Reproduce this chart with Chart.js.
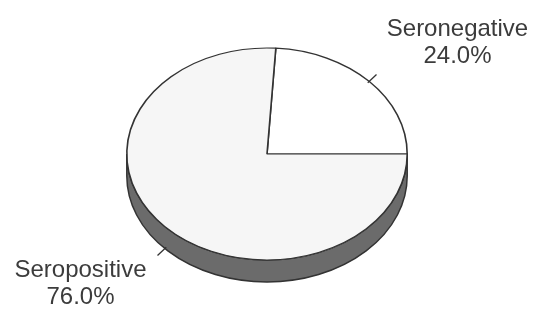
<!DOCTYPE html>
<html>
<head>
<meta charset="utf-8">
<script src="https://cdn.jsdelivr.net/npm/chart.js@4"></script>
<style>
  html, body { margin: 0; padding: 0; background: #fff; }
  canvas { display: block; }
</style>
</head>
<body>
<canvas id="pie" width="538" height="312"></canvas>
<script>
const categories = ['Seronegative', 'Seropositive'];
const values = [24.0, 76.0];
const pctLabels = ['24.0%', '76.0%'];

// flatten the circle into an ellipse and put a dark side band under it
const tilt = 0.756;
const depth = 22;
const ink = '#333';

const tiltPlugin = {
  id: 'tilt',
  beforeDatasetsDraw(chart) {
    const ctx = chart.ctx;
    const arc = chart.getDatasetMeta(0).data[0];
    const cx = arc.x, cy = arc.y, rx = arc.outerRadius, ry = rx * tilt;
    ctx.save();
    ctx.beginPath();
    ctx.moveTo(cx + rx, cy);
    ctx.lineTo(cx + rx, cy + depth);
    ctx.ellipse(cx, cy + depth, rx, ry, 0, 0, Math.PI, false);
    ctx.lineTo(cx - rx, cy);
    ctx.ellipse(cx, cy, rx, ry, 0, Math.PI, 0, true);
    ctx.closePath();
    ctx.fillStyle = '#6b6b6b';
    ctx.fill();
    ctx.lineWidth = 1.5;
    ctx.strokeStyle = ink;
    ctx.stroke();
    ctx.restore();

    ctx.save();
    ctx.translate(cx, cy);
    ctx.scale(1, tilt);
    ctx.translate(-cx, -cy);
  },
  afterDatasetsDraw(chart) {
    const ctx = chart.ctx;
    ctx.restore();
    const meta = chart.getDatasetMeta(0);
    meta.data.forEach((arc, i) => {
      const cx = arc.x, cy = arc.y, rx = arc.outerRadius, ry = rx * tilt;
      const mid = (arc.startAngle + arc.endAngle) / 2;
      const c = Math.cos(mid), s = Math.sin(mid);
      const drop = s > 0 ? depth : 0;
      const x0 = cx + (rx - 2) * c, y0 = cy + (ry - 2) * s + drop;
      const x1 = cx + (rx + 10) * c, y1 = cy + (ry + 10) * s + drop;
      ctx.save();
      ctx.strokeStyle = ink;
      ctx.lineWidth = 1.3;
      ctx.beginPath();
      ctx.moveTo(x0, y0);
      ctx.lineTo(x1, y1);
      ctx.stroke();
      ctx.fillStyle = '#3c3c3c';
      ctx.font = '24px "Liberation Sans", Arial, sans-serif';
      ctx.textAlign = 'center';
      ctx.textBaseline = 'alphabetic';
      let lx, ly;
      if (c > 0) { lx = x1 + 81; ly = y1 - 39; }
      else { lx = x1 - 77; ly = y1 + 22; }
      ctx.fillText(categories[i], lx, ly);
      ctx.fillText(pctLabels[i], lx, ly + 27);
      ctx.restore();
    });
  }
};

new Chart(document.getElementById('pie'), {
  type: 'pie',
  data: {
    labels: categories,
    datasets: [{
      data: values,
      backgroundColor: ['#ffffff', '#f6f6f6'],
      borderColor: ink,
      borderWidth: 1.6,
      borderAlign: 'center'
    }]
  },
  options: {
    responsive: false,
    animation: false,
    rotation: 3.6,
    layout: { padding: { left: 126, right: 130, top: 13, bottom: 17 } },
    plugins: {
      legend: { display: false },
      tooltip: { enabled: false }
    }
  },
  plugins: [tiltPlugin]
});
</script>
</body>
</html>
